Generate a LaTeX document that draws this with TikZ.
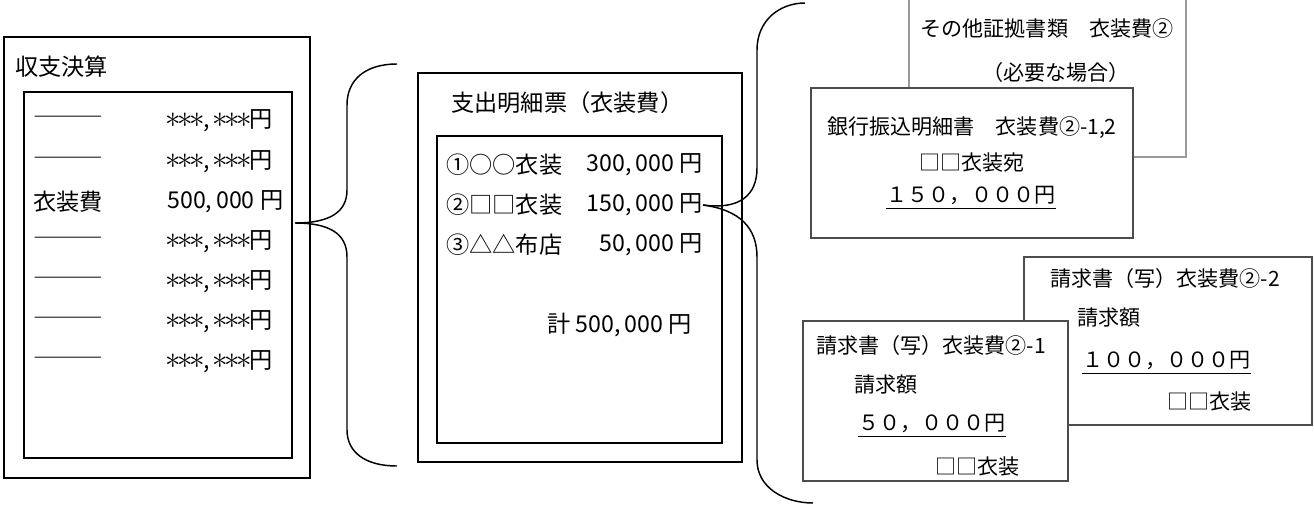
\documentclass[tikz,border=0pt]{standalone}
\usepackage{graphicx}
\usepackage{fontspec}
\newfontfamily\jp{Noto Sans CJK JP}
\newcommand\oneast{\makebox[0.52em]{\scalebox{1.35}{$\ast$}}}
\newcommand\astr{\oneast\oneast\oneast}

\begin{document}
\begin{tikzpicture}[x=0.75pt, y=-0.75pt,
	box/.style={draw, line width=1.4pt},
	doc/.style={draw=black!70, line width=0.8pt, fill=white},
	big/.style={font=\jp\fontsize{17.4}{20}\selectfont, inner sep=0pt},
	small/.style={font=\jp\fontsize{15.8}{19}\selectfont, inner sep=0pt},
	brace/.style={line width=1.1pt}]
	\useasboundingbox (0,0) rectangle (1314,511);

	% 収支決算
	\draw[box] (4,37) rectangle (310,478);
	\draw[box] (24,92) rectangle (292,458);
	\node[big, anchor=west] (kessan) at (15,67) {収支決算};
	\foreach \y/\n in {121/1, 162/2, 242/4, 282/5, 322/6, 362/7} {
		\node[big, anchor=west] (k\n) at (33,\y) {―――};
		\node[big, anchor=west] (a\n) at (167,\y) {\astr,\,\astr 円};
	}
	\node[big, anchor=west] (k3) at (33,202) {衣装費};
	\node[big, anchor=west] (a3) at (167,202) {500,\,000 円};
	\coordinate (tip1) at (295,223);

	% 支出明細票
	\draw[box] (418,73) rectangle (742,462);
	\draw[box] (437,136) rectangle (722,443);
	\node[big, anchor=west] (meisai) at (451,103) {支出明細票（衣装費）};
	\node[big, anchor=west] (i1) at (446,165) {①○○衣装};
	\node[big, anchor=east] (r1) at (703,165) {300,\,000 円};
	\node[big, anchor=west] (i2) at (446,205) {②□□衣装};
	\node[big, anchor=east] (r2) at (703,205) {150,\,000 円};
	\node[big, anchor=west] (i3) at (446,245) {③△△布店};
	\node[big, anchor=east] (r3) at (703,245) {50,\,000 円};
	\node[big, anchor=east] (total) at (692,325) {計 500,\,000 円};

	% braces
	\draw[brace] (tip1) .. controls (330,223) and (347,212) .. (347,190) -- (347,105)
		.. controls (347,80) and (365,64) .. (397,64);
	\draw[brace] (tip1) .. controls (330,223) and (347,234) .. (347,257) -- (347,430)
		.. controls (347,452) and (365,466) .. (397,466);
	\draw[brace] (r2.east) .. controls (740,210) and (757,195) .. (757,168) -- (757,50)
		.. controls (757,20) and (780,3) .. (805,3);
	\draw[brace] (r2.east) .. controls (740,210) and (757,228) .. (757,257) -- (757,460)
		.. controls (757,488) and (785,503) .. (813,503);

	% 証拠書類
	\draw[doc, draw=black!40] (909,-5) rectangle (1186,157);
	\node[small] (sonota) at (1047,28) {その他証拠書類　衣装費②};
	\node[small] (hitsuyo) at (1056,72) {（必要な場合）};
	\draw[doc] (811,88) rectangle (1133,238);
	\node[small] (ginko) at (972,128) {銀行振込明細書　衣装費②-1,2};
	\node[small] (ate) at (972,163) {□□衣装宛};
	\node[small] (furikomi) at (971,195) {１５０，０００円};
	\draw[line width=0.9pt] ([yshift=-3pt]furikomi.south west) -- ([yshift=-3pt]furikomi.south east);

	% 請求書
	\draw[doc] (1024,257) rectangle (1312,425);
	\node[small, anchor=west] (sei2) at (1050,278) {請求書（写）衣装費②-2};
	\node[small, anchor=west] (gaku2) at (1077,318) {請求額};
	\node[small, anchor=west] (kin2) at (1082,360) {１００，０００円};
	\draw[line width=0.9pt] ([yshift=-3pt]kin2.south west) -- ([yshift=-3pt]kin2.south east);
	\node[small, anchor=east] (ten2) at (1252,402) {□□衣装};
	\draw[doc] (803,321) rectangle (1068,481);
	\node[small, anchor=west] (sei1) at (816,345) {請求書（写）衣装費②-1};
	\node[small, anchor=west] (gaku1) at (854,385) {請求額};
	\node[small, anchor=west] (kin1) at (858,423) {５０，０００円};
	\draw[line width=0.9pt] ([yshift=-3pt]kin1.south west) -- ([yshift=-3pt]kin1.south east);
	\node[small, anchor=east] (ten1) at (1020,467) {□□衣装};
\end{tikzpicture}
\end{document}
